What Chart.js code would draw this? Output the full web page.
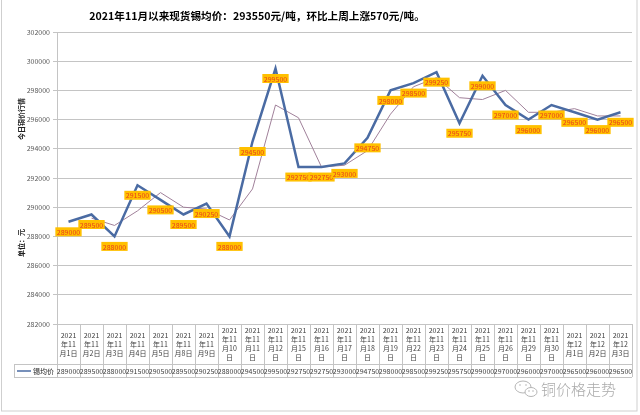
<!DOCTYPE html>
<html>
<head>
<meta charset="utf-8">
<script src="https://cdn.jsdelivr.net/npm/chart.js@4"></script>
<style>
  html, body { margin: 0; padding: 0; background: #fff; }
  canvas { display: block; }
</style>
</head>
<body>
<canvas id="tin-chart" width="640" height="415"></canvas>
<script>
//data
const dates = ['2021年11月1日', '2021年11月2日', '2021年11月3日', '2021年11月4日', '2021年11月5日',
  '2021年11月8日', '2021年11月9日', '2021年11月10日', '2021年11月11日', '2021年11月12日',
  '2021年11月15日', '2021年11月16日', '2021年11月17日', '2021年11月18日', '2021年11月19日',
  '2021年11月22日', '2021年11月23日', '2021年11月24日', '2021年11月25日', '2021年11月26日',
  '2021年11月29日', '2021年11月30日', '2021年12月1日', '2021年12月2日', '2021年12月3日'];
const tinPrice = [289000, 289500, 288000, 291500, 290500, 289500, 290250, 288000, 294500, 299500,
  292750, 292750, 293000, 294750, 298000, 298500, 299250, 295750, 299000, 297000,
  296000, 297000, 296500, 296000, 296500];
//thin trend line (moving average drawn by the original chart)
const trendLine = [null, 289250, 288750, 289750, 291000, 290000, 289875, 289125, 291250, 297000,
  296125, 292750, 292875, 293875, 296375, 298250, 298875, 297500, 297375, 298000,
  296500, 296500, 296750, 296250, 296250];
const seriesName = '锡均价';
const titleText = '2021年11月以来现货锡均价：293550元/吨，环比上周上涨570元/吨。';
const yTitleTop = '今日铜价行情';
const yTitleBottom = '单位：元';
const watermark = '铜价格走势';

const FONT = '"Noto Sans CJK SC", "Noto Sans", sans-serif';
const LINE_BLUE = '#4a6ba3';
const GRID = '#c4c4c4';

//split "2021年11月10日" into the short lines of the table header
function headerLines(label) {
  const lines = [label.slice(0, 4)];
  const rest = label.slice(4);
  for (let i = 0; i < rest.length; i += 3) {
    lines.push(rest.slice(i, i + 3));
  }
  return lines;
}

//title, axis title, frame and watermark
const decorPlugin = {
  id: 'decor',
  afterDraw(chart) {
    const ctx = chart.ctx;
    ctx.save();

    //outer frame
    ctx.strokeStyle = '#cfcfcf';
    ctx.lineWidth = 1;
    ctx.strokeRect(1.5, -2, 635.5, 413);

    //title
    ctx.fillStyle = '#000';
    ctx.textAlign = 'center';
    ctx.textBaseline = 'middle';
    ctx.font = 'bold 12px ' + FONT;
    const w = ctx.measureText(titleText).width;
    const size = 12 * 336 / w;
    ctx.font = 'bold ' + size.toFixed(2) + 'px ' + FONT;
    ctx.fillText(titleText, 257, 16);

    //vertical axis titles
    ctx.font = 'bold 7px ' + FONT;
    ctx.fillStyle = '#222';
    ctx.translate(21, 0);
    ctx.rotate(-Math.PI / 2);
    ctx.fillText(yTitleTop, -119, 0);
    ctx.fillText(yTitleBottom, -243, 0);
    ctx.restore();

    //watermark
    ctx.save();
    ctx.strokeStyle = '#b5b5b5';
    ctx.fillStyle = '#b5b5b5';
    ctx.lineWidth = 1;
    ctx.beginPath();
    ctx.ellipse(523, 387, 8, 6, 0, 0, Math.PI * 2);
    ctx.stroke();
    ctx.beginPath();
    ctx.ellipse(531, 392, 6, 4.5, 0, 0, Math.PI * 2);
    ctx.fillStyle = '#fff';
    ctx.fill();
    ctx.stroke();
    ctx.fillStyle = '#b5b5b5';
    [[520, 385], [526, 385], [529, 391], [533, 391]].forEach(([x, y]) => {
      ctx.beginPath();
      ctx.arc(x, y, 0.8, 0, Math.PI * 2);
      ctx.fill();
    });
    ctx.font = '300 15px ' + FONT;
    ctx.textAlign = 'left';
    ctx.textBaseline = 'middle';
    ctx.fillStyle = '#aaaaaa';
    ctx.fillText(watermark, 541, 389);
    ctx.restore();
  }
};

//data table under the plot
const tablePlugin = {
  id: 'dataTable',
  afterDraw(chart) {
    const ctx = chart.ctx;
    const x = chart.scales.x;
    const area = chart.chartArea;
    const top = area.bottom;
    const mid = top + 40;
    const bottom = mid + 13;
    const half = (x.getPixelForValue(1) - x.getPixelForValue(0)) / 2;

    ctx.save();
    ctx.strokeStyle = GRID;
    ctx.lineWidth = 1;

    //vertical lines
    ctx.beginPath();
    for (let i = 0; i <= dates.length; i++) {
      const px = Math.round(x.getPixelForValue(i) - half) + 0.5;
      ctx.moveTo(px, top);
      ctx.lineTo(px, bottom);
    }
    ctx.moveTo(14.5, mid);
    ctx.lineTo(14.5, bottom);
    //horizontal lines
    ctx.moveTo(14, mid + 0.5);
    ctx.lineTo(area.right, mid + 0.5);
    ctx.moveTo(14, bottom + 0.5);
    ctx.lineTo(area.right, bottom + 0.5);
    ctx.stroke();

    //header dates
    ctx.fillStyle = '#404040';
    ctx.textAlign = 'center';
    ctx.textBaseline = 'middle';
    ctx.font = '7px ' + FONT;
    dates.forEach((d, i) => {
      const lines = headerLines(d);
      const cx = x.getPixelForValue(i);
      const start = top + 20 - (lines.length - 1) * 9 / 2;
      lines.forEach((ln, j) => ctx.fillText(ln, cx, start + j * 9));
    });

    //values row
    ctx.font = '7px ' + FONT;
    tinPrice.forEach((v, i) => {
      ctx.fillText(String(v), x.getPixelForValue(i), mid + 7);
    });

    //legend key
    ctx.strokeStyle = LINE_BLUE;
    ctx.lineWidth = 1.5;
    ctx.beginPath();
    ctx.moveTo(17, mid + 7);
    ctx.lineTo(31, mid + 7);
    ctx.stroke();
    ctx.textAlign = 'left';
    ctx.font = '7px ' + FONT;
    ctx.fillStyle = '#222';
    ctx.fillText(seriesName, 33, mid + 7);
    ctx.restore();
  }
};

//yellow value boxes below every point of the main line
const labelPlugin = {
  id: 'valueLabels',
  afterDatasetsDraw(chart) {
    const ctx = chart.ctx;
    const meta = chart.getDatasetMeta(0);
    ctx.save();
    ctx.font = '7px ' + FONT;
    ctx.textAlign = 'center';
    ctx.textBaseline = 'middle';
    meta.data.forEach((pt, i) => {
      const text = String(tinPrice[i]);
      const w = ctx.measureText(text).width + 3;
      const cy = pt.y + 10;
      ctx.fillStyle = '#ffc000';
      ctx.fillRect(pt.x - w / 2, cy - 4.5, w, 9);
      ctx.fillStyle = '#e8401c';
      ctx.fillText(text, pt.x, cy + 0.5);
    });
    ctx.restore();
  }
};

const chart_elem = document.getElementById('tin-chart');
const tin_chart = new Chart(chart_elem, {
  type: 'line',
  data: {
    labels: dates,
    datasets: [{
      label: seriesName,
      data: tinPrice,
      borderColor: LINE_BLUE,
      borderWidth: 2.5,
      pointRadius: 0,
      tension: 0,
      order: 0
    }, {
      label: 'trend',
      data: trendLine,
      borderColor: '#a0809a',
      borderWidth: 1,
      pointRadius: 0,
      tension: 0,
      order: 1
    }]
  },
  options: {
    responsive: false,
    animation: false,
    devicePixelRatio: 1,
    layout: {
      padding: { top: 32, right: 8, bottom: 91, left: 0 }
    },
    scales: {
      x: {
        type: 'category',
        offset: true,
        display: false
      },
      y: {
        min: 282000,
        max: 302000,
        afterFit(scale) { scale.width = 57; },
        ticks: {
          stepSize: 2000,
          color: '#595959',
          font: { size: 7, family: FONT },
          padding: 3,
          callback: (value) => String(value)
        },
        grid: {
          color: GRID,
          tickLength: 4
        },
        border: { color: GRID }
      }
    },
    plugins: {
      legend: { display: false },
      tooltip: { enabled: false },
      title: { display: false }
    }
  },
  plugins: [labelPlugin, tablePlugin, decorPlugin]
});
</script>
</body>
</html>
